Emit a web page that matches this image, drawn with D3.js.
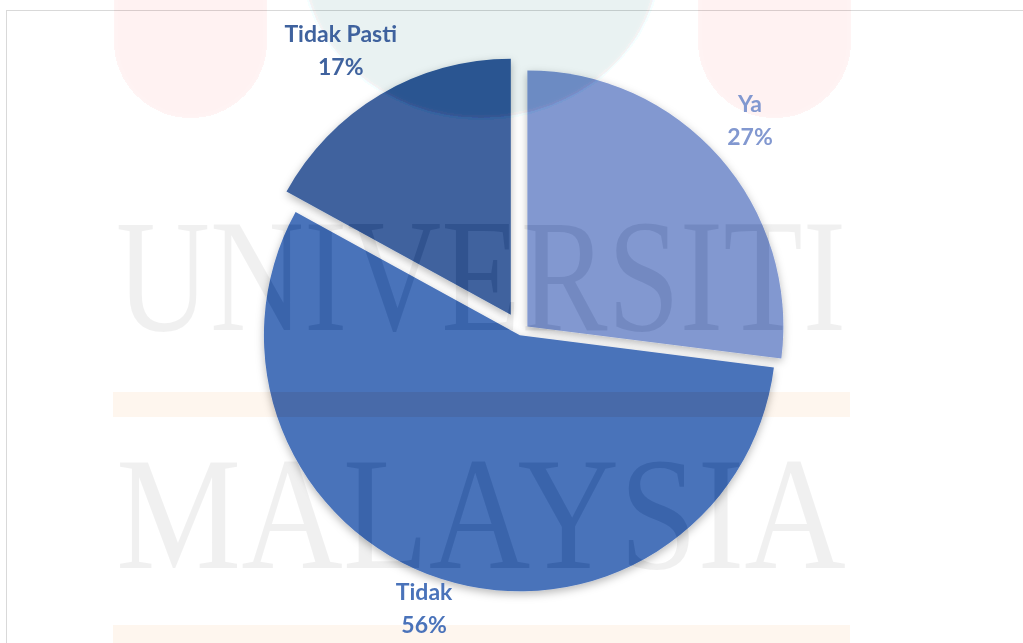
<!DOCTYPE html>
<html>
<head>
<meta charset="utf-8">
<script src="https://cdn.jsdelivr.net/npm/d3@7"></script>
<style>
  html, body { margin: 0; padding: 0; background: #fff; }
  svg { display: block; }
  .wm { mix-blend-mode: difference; }
</style>
</head>
<body>
<svg id="chart" width="1023" height="643"></svg>
<script>
// ---- data ----
const categories = ["Ya", "Tidak", "Tidak Pasti"];
const values = [27, 56, 17];
const sliceColors = ["#8298D0", "#4A73BA", "#3F629E"];

// ---- layout / style config ----
const W = 1023, H = 643;
const center = [521, 332];
const radius = 256;
const explode = [8.5, 3.5, 20];          // per-slice explosion distance
const labelDist = [303, 290, 314];       // label block centre distance from slice vertex
const labelShiftDeg = [-1.3, 1.3, -2.2]; // fine angular shift of labels
const lineGap = 33;

const svg = d3.select("#chart");

// defs: soft shadow
const defs = svg.append("defs");
const f = defs.append("filter").attr("id", "shadow")
  .attr("x", "-20%").attr("y", "-20%").attr("width", "140%").attr("height", "140%");
f.append("feDropShadow").attr("dx", 0).attr("dy", 3).attr("stdDeviation", 4)
  .attr("flood-color", "#000").attr("flood-opacity", 0.28);
defs.append("filter").attr("id", "soft").append("feGaussianBlur").attr("stdDeviation", 3);

// background
svg.append("rect").attr("width", W).attr("height", H).attr("fill", "#fff");

// chart frame
svg.append("rect").attr("x", 6.5).attr("y", 10.5).attr("width", W + 10).attr("height", H + 10)
  .attr("fill", "none").attr("stroke", "#D9D9D9").attr("stroke-width", 1);

const total = d3.sum(values);
const pct = d3.format(".0%");
const pie = d3.pie().sort(null).value(d => d)(values);
const arc = d3.arc().innerRadius(0).outerRadius(radius);

const g = svg.append("g").attr("transform", `translate(${center[0]},${center[1]})`);

pie.forEach((p, i) => {
  const mid = (p.startAngle + p.endAngle) / 2;
  const ox = explode[i] * Math.sin(mid), oy = -explode[i] * Math.cos(mid);
  g.append("path")
    .attr("d", arc(p))
    .attr("transform", `translate(${ox},${oy})`)
    .attr("fill", sliceColors[i])
    .attr("filter", "url(#shadow)");
});

// ---- watermark overlay (difference blend = subtle darkening) ----
const wm = svg.append("g");
[[114, 267], [698, 851]].forEach(([x0, x1]) => {
  wm.append("rect").attr("class", "wm")
    .attr("x", x0).attr("y", -100).attr("width", x1 - x0).attr("height", 218)
    .attr("rx", (x1 - x0) / 2)
    .attr("fill", "#021111").attr("filter", "url(#soft)");
});
wm.append("ellipse").attr("class", "wm")
  .attr("cx", 481).attr("cy", -40).attr("rx", 178).attr("ry", 158)
  .attr("fill", "#120D08").attr("filter", "url(#soft)");
[[392, 417], [625, 660]].forEach(([y0, y1]) => {
  wm.append("rect").attr("class", "wm")
    .attr("x", 113).attr("y", y0).attr("width", 737).attr("height", y1 - y0)
    .attr("fill", "#010911");
});
[["UNIVERSITI", 330], ["MALAYSIA", 568]].forEach(([s, y]) => {
  wm.append("text").attr("class", "wm")
    .attr("x", 116).attr("y", y)
    .attr("font-family", "'Liberation Serif', serif")
    .attr("font-size", 160)
    .attr("textLength", 730).attr("lengthAdjust", "spacingAndGlyphs")
    .attr("fill", "#0F0F0F")
    .text(s);
});

// ---- data labels (on top) ----
const lg = svg.append("g").attr("transform", `translate(${center[0]},${center[1]})`);
pie.forEach((p, i) => {
  const mid = (p.startAngle + p.endAngle) / 2;
  const ox = explode[i] * Math.sin(mid), oy = -explode[i] * Math.cos(mid);
  const a = mid + labelShiftDeg[i] * Math.PI / 180;
  const lx = ox + labelDist[i] * Math.sin(a);
  const ly = oy - labelDist[i] * Math.cos(a);
  const t = lg.append("text")
    .attr("text-anchor", "middle")
    .attr("font-family", "Lato, 'Open Sans', sans-serif")
    .attr("font-weight", "bold")
    .attr("font-size", 23)
    .attr("fill", sliceColors[i]);
  t.append("tspan").attr("x", lx).attr("y", ly - 9.2).text(categories[i]);
  t.append("tspan").attr("x", lx).attr("y", ly - 9.2 + lineGap).text(pct(values[i] / total));
});
</script>
</body>
</html>
